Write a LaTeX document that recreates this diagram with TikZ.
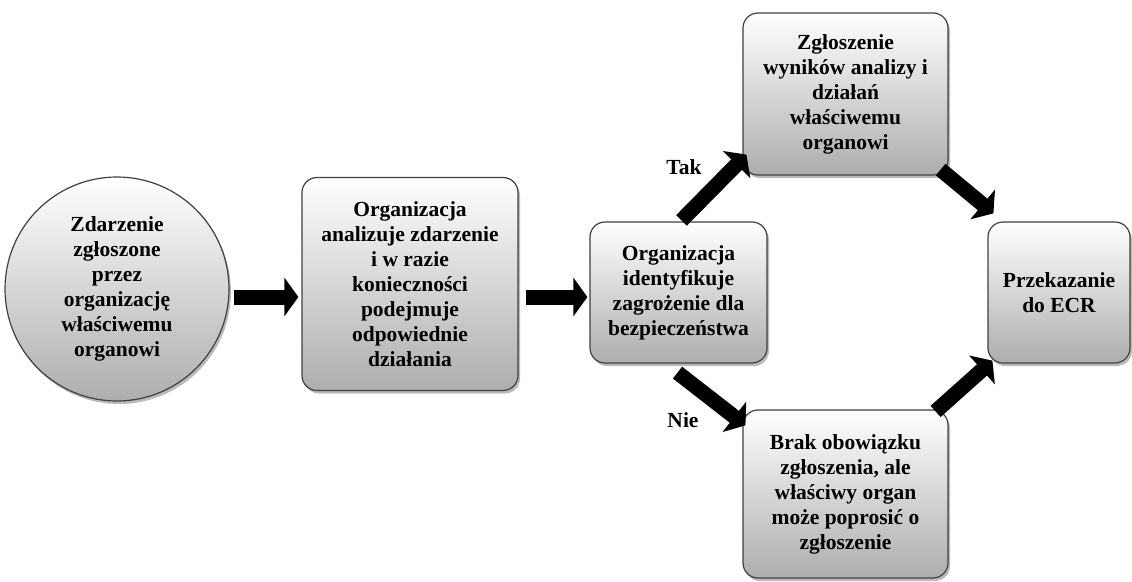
\documentclass[tikz,border=0pt]{standalone}
\usepackage{fontspec}
\setmainfont{Liberation Serif}
\usetikzlibrary{arrows.meta,shadows,calc}
\begin{document}
\begin{tikzpicture}[x=1pt,y=-1pt,
  box/.style={draw=black!75, line width=1.2pt, rounded corners=15pt,
    top color=white, bottom color=black!32,
    drop shadow={shadow xshift=2pt, shadow yshift=-3pt, fill=black!45, opacity=0.6},
    align=center, font=\fontsize{21.5}{25}\selectfont\bfseries, inner sep=2pt},
  disc/.style={box, circle, rounded corners=0pt},
  blockarrow/.style={line width=15pt, -{Triangle[width=38pt,length=14pt]}},
  lbl/.style={font=\fontsize{21.5}{22}\selectfont\bfseries}
]
\useasboundingbox (0,0) rectangle (1132,581);

% process nodes
\node[disc, minimum size=224pt, inner sep=0pt] (c) at (117,289)
  {Zdarzenie\\zgłoszone\\przez\\organizację\\właściwemu\\organowi};
\node[box, minimum width=216pt, minimum height=213pt] (b2) at (410,284)
  {Organizacja\\analizuje zdarzenie\\i w razie\\konieczności\\podejmuje\\odpowiednie\\działania};
\node[box, minimum width=177pt, minimum height=141pt] (b3) at (678.5,292.5)
  {Organizacja\\identyfikuje\\zagrożenie dla\\bezpieczeństwa};
\node[box, minimum width=205pt, minimum height=162pt] (bt) at (845.5,94)
  {Zgłoszenie\\wyników analizy i\\działań\\właściwemu\\organowi};
\node[box, minimum width=205pt, minimum height=168pt] (bb) at (845.5,494)
  {Brak obowiązku\\zgłoszenia, ale\\właściwy organ\\może poprosić o\\zgłoszenie};
\node[box, minimum width=142pt, minimum height=141pt] (br) at (1059,292.5)
  {Przekazanie\\do ECR};

% connectors
\draw[blockarrow] ($(c.east)+(4,8)$) -- ($(b2.west)+(-3,13)$);
\draw[blockarrow] ($(b2.east)+(7,13)$) -- ($(b3.west)+(-2,4.5)$);
\draw[blockarrow] ($(b3.north)+(3,-1)$) -- ($(bt.south west)+(4,-21)$);
\draw[blockarrow] ($(b3.south)+(-1,9)$) -- ($(bb.north west)+(3,16)$);
\draw[blockarrow] ($(bt.south east)+(-8,-6)$) -- ($(br.north west)+(6,-8)$);
\draw[blockarrow] ($(bb.north east)+(-13,2)$) -- ($(br.south west)+(5,-3)$);

% branch labels
\node[lbl] (tak) at (684,167) {Tak};
\node[lbl] (nie) at (683,420) {Nie};
\end{tikzpicture}
\end{document}
